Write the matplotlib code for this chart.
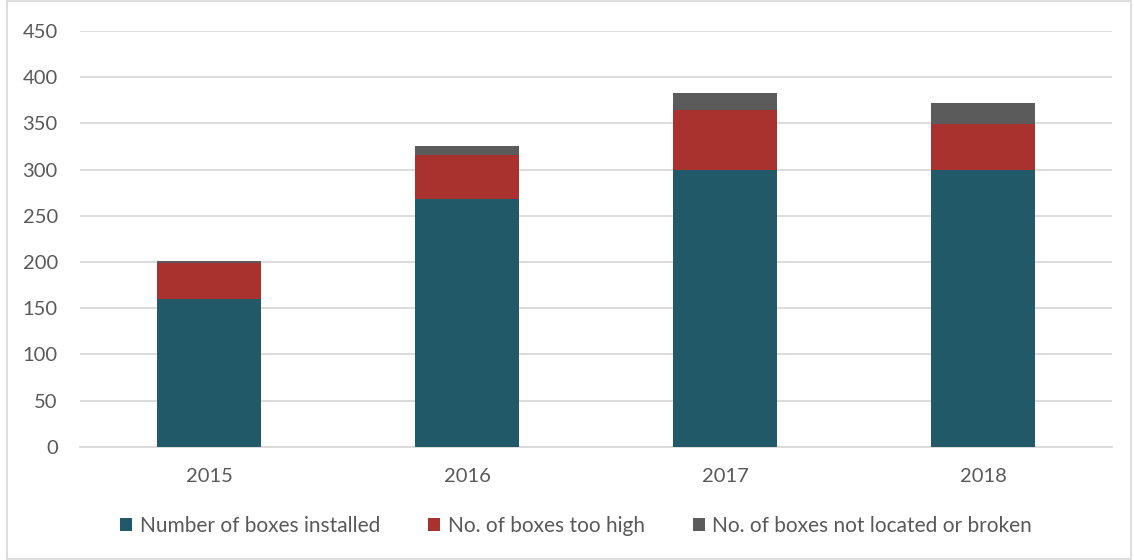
import numpy as np
import matplotlib.pyplot as plt
from matplotlib.patches import Rectangle

plt.rcParams['font.family'] = ['Lato', 'DejaVu Sans']

annees = ['2015', '2016', '2017', '2018']
installes = [160, 268, 300, 300]
trop_haut = [39, 48, 64, 49]
casses = [2, 9, 19, 23]

couleurs = ['#215968', '#A9322F', '#5B5B5B']
noms = ['Number of boxes installed', 'No. of boxes too high',
        'No. of boxes not located or broken']

fig = plt.figure(figsize=(11.34, 5.6), dpi=100)
ax = fig.add_axes([80 / 1134, 0.2023, 1032 / 1134, 0.7423])

x = np.arange(len(annees))
bas = np.zeros(len(annees))
for vals, c, nom in zip([installes, trop_haut, casses], couleurs, noms):
    ax.bar(x, vals, width=0.4, bottom=bas, color=c, label=nom, zorder=3)
    bas = bas + np.array(vals)

ax.set_ylim(0, 450)
ax.set_xlim(-0.5, len(annees) - 0.5)
ax.set_yticks(np.arange(0, 451, 50))
ax.set_xticks(x)
ax.set_xticklabels(annees)
ax.grid(axis='y', color='#D9D9D9', linewidth=1.3, zorder=0)
for s in ['top', 'right', 'left']:
    ax.spines[s].set_visible(False)
ax.spines['bottom'].set_color('#D9D9D9')
ax.spines['bottom'].set_linewidth(1.3)
ax.tick_params(axis='both', length=0, labelsize=14.5, colors='#595959')
ax.tick_params(axis='y', pad=16)
ax.tick_params(axis='x', pad=15)

fig.legend(loc='center', bbox_to_anchor=(0.508, 1 - 526 / 560), ncol=3, frameon=False,
           fontsize=15, handlelength=0.6, handleheight=0.6, handletextpad=0.35,
           columnspacing=2.3, labelcolor='#595959')

fig.patches.append(Rectangle((7 / 1134, 0.002), 1 - 10 / 1134, 0.996, transform=fig.transFigure,
                             fill=False, edgecolor='#D9D9D9', linewidth=1.2))

plt.savefig('out.png', dpi=100)
